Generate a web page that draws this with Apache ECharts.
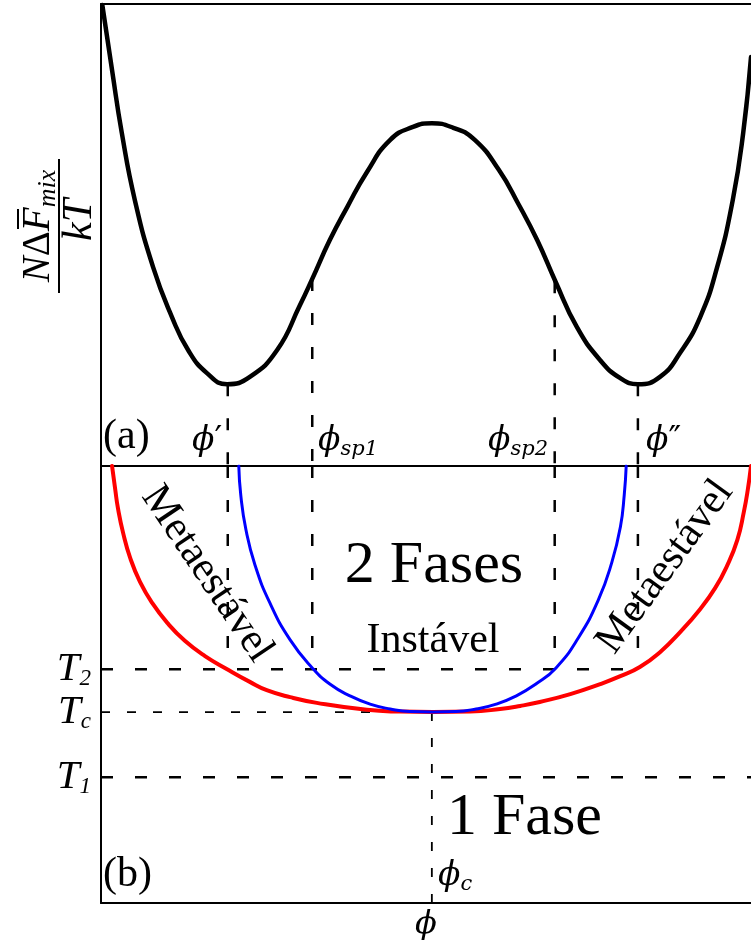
<!DOCTYPE html>
<html>
<head>
<meta charset="utf-8">
<script src="https://cdn.jsdelivr.net/npm/echarts@6/dist/echarts.min.js"></script>
<style>
html, body { margin: 0; padding: 0; background: #fff; }
#chart { width: 751px; height: 944px; }
</style>
</head>
<body>
<div id="chart"></div>
<script>
// (a) energia livre de mistura (phi de 0 a 1, valor relativo 0..1)
const freePhi = [0.002, 0.017, 0.032, 0.052, 0.080, 0.109, 0.134, 0.163, 0.194, 0.229, 0.271, 0.306,
  0.325, 0.352, 0.379, 0.409, 0.445, 0.480, 0.509, 0.542, 0.575, 0.612, 0.643, 0.671, 0.699, 0.732,
  0.768, 0.799, 0.826, 0.860, 0.891, 0.922, 0.948, 0.972, 0.988, 1.0]
const freeEnergy = [0.998, 0.857, 0.721, 0.576, 0.431, 0.323, 0.251, 0.201, 0.177, 0.193, 0.251, 0.348,
  0.405, 0.489, 0.561, 0.636, 0.706, 0.734, 0.742, 0.732, 0.706, 0.641, 0.565, 0.489, 0.400, 0.301,
  0.229, 0.190, 0.177, 0.193, 0.245, 0.323, 0.431, 0.576, 0.721, 0.885]

// (b) binodal (vermelho) e espinodal (azul)
const binodalPhi = [0.017, 0.022, 0.026, 0.034, 0.045, 0.060, 0.079, 0.102, 0.129, 0.160, 0.194, 0.229,
  0.255, 0.291, 0.332, 0.409, 0.460, 0.511, 0.568, 0.614, 0.645, 0.675, 0.722, 0.768, 0.799, 0.829,
  0.860, 0.891, 0.922, 0.945, 0.963, 0.979, 0.989, 0.995, 1.0]
const binodalT = [1.0, 0.945, 0.904, 0.847, 0.789, 0.735, 0.686, 0.641, 0.600, 0.565, 0.535, 0.506,
  0.487, 0.471, 0.458, 0.442, 0.438, 0.437, 0.438, 0.444, 0.451, 0.460, 0.478, 0.501, 0.519, 0.540,
  0.574, 0.620, 0.673, 0.721, 0.771, 0.831, 0.895, 0.945, 1.0]
const spinodalPhi = [0.212, 0.215, 0.223, 0.237, 0.260, 0.291, 0.325, 0.352, 0.383, 0.414, 0.445, 0.475,
  0.511, 0.546, 0.577, 0.608, 0.639, 0.669, 0.700, 0.734, 0.765, 0.786, 0.799, 0.805, 0.808]
const spinodalT = [1.0, 0.934, 0.854, 0.773, 0.686, 0.602, 0.538, 0.501, 0.474, 0.455, 0.444, 0.438,
  0.437, 0.438, 0.444, 0.455, 0.474, 0.501, 0.538, 0.606, 0.693, 0.780, 0.860, 0.934, 1.0]

// temperaturas marcadas (T1, Tc, T2)
const tempSubs = ['1', 'c', '2']
const tempValues = [0.288, 0.437, 0.535]

// composicoes marcadas: phi', phi_sp1, phi_sp2, phi''
const phiValues = [0.195, 0.325, 0.698, 0.826]
const phiCurveF = [0.177, 0.405, 0.400, 0.177]
const phiC = 0.509

const serif = '"Liberation Serif", "Times New Roman", serif'
const mathFont = '"DejaVu Serif", serif'

const dash = [12, 22]
const thinDash = [9, 17]
const series = []

function dashed(xi, yi, pts, width, type) {
  series.push({
    type: 'line',
    xAxisIndex: xi,
    yAxisIndex: yi,
    data: pts,
    showSymbol: false,
    silent: true,
    z: 1,
    lineStyle: { color: '#000', width: width, type: type }
  })
}

phiValues.forEach((p, i) => {
  dashed(0, 0, [[p, phiCurveF[i]], [p, 0]], 2.5, dash)
  dashed(2, 1, [[p, 1], [p, tempValues[2]]], 2.5, dash)
})
dashed(2, 1, [[0, tempValues[2]], [phiValues[3], tempValues[2]]], 2.5, dash)
dashed(2, 1, [[0, tempValues[1]], [phiC, tempValues[1]]], 1.8, thinDash)
dashed(2, 1, [[phiC, tempValues[1]], [phiC, 0]], 1.8, thinDash)
dashed(2, 1, [[0, tempValues[0]], [1, tempValues[0]]], 2.5, dash)

function curve(xi, yi, xs, ys, color, width) {
  series.push({
    type: 'line',
    xAxisIndex: xi,
    yAxisIndex: yi,
    data: xs.map((p, i) => [p, ys[i]]),
    smooth: 0.5,
    showSymbol: false,
    z: 3,
    lineStyle: { color: color, width: width, cap: 'round', join: 'round' }
  })
}
curve(0, 0, freePhi, freeEnergy, '#000', 4.5)
curve(2, 1, binodalPhi, binodalT, '#ff0000', 4)
curve(2, 1, spinodalPhi, spinodalT, '#0000ff', 3)

const axisLine = { show: true, onZero: false, lineStyle: { color: '#000', width: 2 } }
const hidden = {
  axisTick: { show: false },
  axisLabel: { show: false },
  splitLine: { show: false }
}

function label(x, y, text, size, align, extra) {
  return Object.assign({
    type: 'text',
    x: x,
    y: y,
    style: {
      text: text,
      fontFamily: serif,
      fontSize: size,
      fill: '#000',
      textAlign: align,
      align: align,
      textVerticalAlign: 'middle',
      verticalAlign: 'middle'
    }
  }, extra || {})
}

const phiRich = {
  p: { fontFamily: mathFont, fontStyle: 'italic', fontSize: 33, lineHeight: 38 },
  q: { fontFamily: mathFont, fontSize: 34, lineHeight: 38 },
  s: { fontFamily: mathFont, fontStyle: 'italic', fontSize: 21, lineHeight: 24, verticalAlign: 'bottom' }
}
function phiLabel(x, y, sub, sup) {
  const text = '{p|ϕ}' + (sup ? '{q|' + sup + '}' : '{s|' + sub + '}')
  const el = label(x, y, text, 33, 'left')
  el.style.rich = phiRich
  return el
}

const chart = echarts.init(document.getElementById('chart'))
chart.setOption({
  animation: false,
  backgroundColor: '#fff',
  grid: [
    { left: 101, top: 4, width: 650, height: 462 },
    { left: 101, top: 466, width: 650, height: 437 }
  ],
  xAxis: [
    Object.assign({ type: 'value', gridIndex: 0, min: 0, max: 1, position: 'bottom', axisLine: axisLine }, hidden),
    Object.assign({ type: 'value', gridIndex: 0, min: 0, max: 1, position: 'top', axisLine: axisLine }, hidden),
    Object.assign({
      type: 'value', gridIndex: 1, min: 0, max: 1, position: 'bottom', axisLine: axisLine,
      name: 'ϕ', nameLocation: 'middle', nameGap: 6,
      nameTextStyle: { fontFamily: mathFont, fontStyle: 'italic', fontSize: 32, color: '#000' }
    }, hidden)
  ],
  yAxis: [
    Object.assign({ type: 'value', gridIndex: 0, min: 0, max: 1, axisLine: axisLine }, hidden),
    {
      type: 'value', gridIndex: 1, min: 0, max: 1, axisLine: axisLine,
      axisTick: { show: false },
      splitLine: { show: false },
      axisLabel: {
        show: true,
        customValues: tempValues,
        margin: 10,
        formatter: function (v) {
          const i = tempValues.indexOf(v)
          return i < 0 ? '' : '{t|T}{s|' + tempSubs[i] + '}'
        },
        rich: {
          t: { fontFamily: serif, fontStyle: 'italic', fontSize: 41, lineHeight: 42, color: '#000' },
          s: { fontFamily: serif, fontStyle: 'italic', fontSize: 23, lineHeight: 18, verticalAlign: 'bottom', color: '#000' }
        }
      }
    }
  ],
  graphic: [
    {
      type: 'group',
      x: 59,
      y: 226,
      rotation: Math.PI / 2,
      children: [
        {
          type: 'text', x: 0, y: -20,
          style: {
            text: '{i|N}{u|Δ}{i|F}{s|mix}',
            textAlign: 'center', align: 'center', textVerticalAlign: 'middle', verticalAlign: 'middle',
            rich: {
              i: { fontFamily: serif, fontStyle: 'italic', fontSize: 39, lineHeight: 44, color: '#000' },
              u: { fontFamily: serif, fontSize: 39, lineHeight: 44, color: '#000' },
              s: { fontFamily: serif, fontStyle: 'italic', fontSize: 26, lineHeight: 20, verticalAlign: 'bottom', color: '#000' }
            }
          }
        },
        { type: 'line', shape: { x1: -3, y1: -41, x2: 17, y2: -41 }, style: { stroke: '#000', lineWidth: 2 } },
        { type: 'line', shape: { x1: -67, y1: 0, x2: 67, y2: 0 }, style: { stroke: '#000', lineWidth: 2 } },
        {
          type: 'text', x: 6, y: 21,
          style: {
            text: 'kT', fontFamily: serif, fontStyle: 'italic', fontSize: 42, fill: '#000',
            textAlign: 'center', align: 'center', textVerticalAlign: 'middle', verticalAlign: 'middle'
          }
        }
      ]
    },
    label(103, 437, '(a)', 42, 'left'),
    label(103, 875, '(b)', 42, 'left'),
    phiLabel(192, 441, '', '′'),
    phiLabel(318, 441, 'sp1'),
    phiLabel(488, 441, 'sp2'),
    phiLabel(646, 441, '', '″'),
    phiLabel(438, 876, 'c'),
    label(434, 566, '2 Fases', 60, 'center'),
    label(433, 641, 'Instável', 42, 'center'),
    label(447, 818, '1 Fase', 60, 'left'),
    label(207, 574, 'Metaestável', 42, 'center', { rotation: -56 * Math.PI / 180 }),
    label(665, 567, 'Metaestável', 42, 'center', { rotation: 54 * Math.PI / 180 })
  ],
  series: series
})
</script>
</body>
</html>
